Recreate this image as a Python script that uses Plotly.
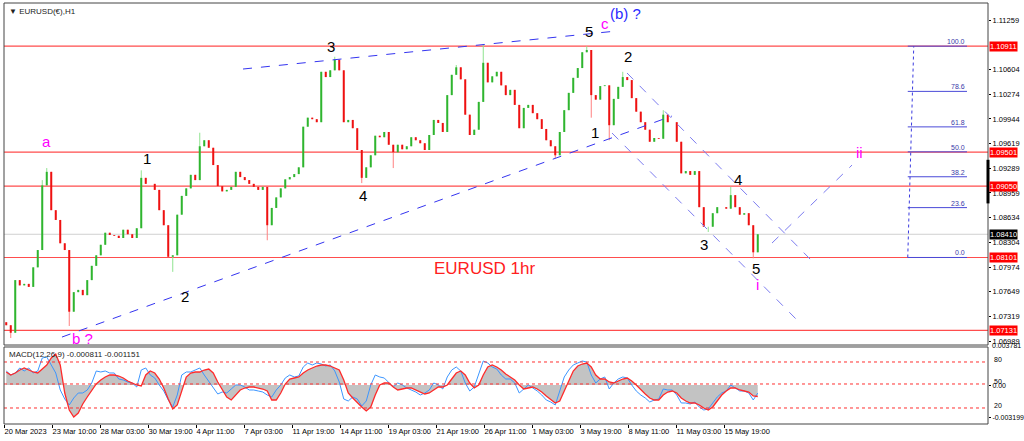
import numpy as np
import plotly.graph_objects as go

# EURUSD H1, closes (one value per 6 hourly bars)
closes = [
    1.0720, 1.0710, 1.0780, 1.0773, 1.0775, 1.0771, 1.0797, 1.0820, 1.0906, 1.0924,
    1.0873, 1.0860, 1.0829, 1.0820, 1.0738, 1.0764, 1.0767, 1.0760, 1.0780, 1.0799,
    1.0813, 1.0827, 1.0843, 1.0840, 1.0839, 1.0836, 1.0847, 1.0841, 1.0836, 1.0849,
    1.0916, 1.0908, 1.0908, 1.0900, 1.0873, 1.0853, 1.0811, 1.0813, 1.0867, 1.0892,
    1.0902, 1.0920, 1.0913, 1.0958, 1.0966, 1.0956, 1.0933, 1.0905, 1.0898, 1.0900,
    1.0904, 1.0924, 1.0917, 1.0913, 1.0908, 1.0904, 1.0900, 1.0904, 1.0853, 1.0876,
    1.0890, 1.0902, 1.0914, 1.0917, 1.0921, 1.0930, 1.0984, 1.0996, 1.0994, 1.0990,
    1.1057, 1.1050, 1.1059, 1.1073, 1.1059, 1.0990, 1.0993, 1.0982, 1.0953, 1.0916,
    1.0930, 1.0946, 1.0972, 1.0970, 1.0977, 1.0960, 1.0950, 1.0960, 1.0954, 1.0958,
    1.0970, 1.0966, 1.0962, 1.0953, 1.0973, 1.0993, 1.0989, 1.0977, 1.1026, 1.1053,
    1.1063, 1.1047, 1.1000, 1.0973, 1.0980, 1.1017, 1.1069, 1.1043, 1.1051, 1.1057,
    1.1039, 1.1026, 1.1033, 1.1013, 1.0982, 1.1009, 1.1013, 1.1002, 1.0994, 1.0981,
    1.0966, 1.0958, 1.0946, 1.0977, 1.1006, 1.1029, 1.1049, 1.1062, 1.1083, 1.1086,
    1.1026, 1.1020, 1.1038, 1.1039, 1.0986, 1.1021, 1.1037, 1.1050, 1.1046, 1.1022,
    1.1004, 1.0990, 1.0980, 1.0964, 1.0969, 1.0968, 1.1000, 1.0990, 1.0990, 1.0964,
    1.0922, 1.0925, 1.0920, 1.0925, 1.0877, 1.0851, 1.0851, 1.0869, 1.0877, 1.0877,
    1.0875, 1.0893, 1.0877, 1.0867, 1.0869, 1.0853, 1.0817, 1.0841,
]
first_open = 1.0724
# spikes that stick out of the bodies (candle index -> price)
wick_highs = {8: 1.0913, 9: 1.0929, 30: 1.0926, 43: 1.0976, 73: 1.1077, 100: 1.1066,
              106: 1.1094, 129: 1.1091, 137: 1.1057, 146: 1.1006, 161: 1.0904}
wick_lows = {1: 1.0703, 14: 1.0719, 37: 1.0791, 58: 1.0833, 79: 1.0909, 86: 1.0929,
             122: 1.0942, 130: 1.0996, 134: 1.0966, 156: 1.0844, 166: 1.0809}

# MACD(12,26,9) in units of 0.0001
macd_main = [
    14, 10, 12, 17, 14, 17, 12, 14, 27, 28,
    20, 12, -5, -14, -20, -13, -8, -8, -5, 2,
    14, 13, 14, 12, 12, 6, 5, 3, 2, -2,
    15, 17, 10, 7, 0, -6, -15, -22, -10, 10,
    13, 13, 15, 17, 10, 4, -2, -9, -7, -8,
    -4, 0, 0, -2, -5, -5, -6, -7, -10, -12,
    -5, 0, 7, 10, 8, 9, 18, 22, 20, 22,
    21, 19, 20, 14, 3, -14, -16, -12, -14, -21,
    -16, 0, 10, 8, 7, 3, -2, 2, 0, -3,
    -5, -7, -10, -8, -5, 2, 0, -4, 8, 15,
    18, 14, 2, -6, -2, 10, 24, 22, 18, 16,
    10, 6, 6, 2, -8, -4, 0, -3, -6, -10,
    -15, -17, -20, -6, 8, 15, 20, 22, 24, 23,
    10, 2, 6, 8, -4, 2, 6, 8, 7, 0,
    -6, -10, -13, -17, -15, -14, -4, -5, -5, -10,
    -18, -18, -19, -17, -22, -25, -24, -18, -12, -8,
    -6, 0, -3, -6, -6, -8, -15, -8.11,
]
macd_signal = [
    13, 10, 12, 15, 17, 15, 13, 12, 16, 20,
    27, 31, 20, -8, -25, -32, -28, -19, -12, -5,
    1, 5, 8, 10, 10, 9, 7, 4, 2, 0,
    -1, 10, 14, 12, 6, -3, -14, -24, -20, -5,
    8, 12, 13, 13, 15, 16, 12, 3, -5, -12,
    -15, -10, -5, -3, -2, -2, -3, -4, -6, -15,
    -15, -8, 1, 6, 7, 8, 12, 15, 17, 19,
    20, 20, 19, 17, 15, 5, -8, -13, -18, -22,
    -26, -22, -10, 0, 2, 2, -2, -5, -4, -3,
    -3, -5, -7, -9, -8, -5, -2, -2, 0, 6,
    12, 14, 10, 2, -3, 0, 10, 18, 20, 18,
    15, 11, 8, 5, 0, -4, -3, -2, -4, -7,
    -11, -15, -18, -16, -6, 5, 14, 19, 21, 22,
    18, 10, 6, 6, 3, 2, 4, 6, 7, 4,
    0, -5, -9, -13, -15, -15, -10, -7, -6, -8,
    -13, -16, -18, -18, -20, -23, -25, -22, -16, -10,
    -6, -3, -3, -5, -6, -7, -11, -11.51,
]

bars_per_candle = 6
tick_bars = list(range(0, 961, 64))
tick_labels = ['20 Mar 2023', '23 Mar 10:00', '28 Mar 03:00', '30 Mar 19:00', '4 Apr 11:00',
               '7 Apr 03:00', '11 Apr 19:00', '14 Apr 11:00', '19 Apr 03:00', '21 Apr 19:00',
               '26 Apr 11:00', '1 May 03:00', '3 May 19:00', '8 May 11:00', '11 May 03:00',
               '15 May 19:00']
price_ticks = [1.11259, 1.10604, 1.10274, 1.09944, 1.09619, 1.09289, 1.08959,
               1.08634, 1.08304, 1.07974, 1.07649, 1.07319, 1.06989]
sr_levels = [1.10911, 1.09501, 1.09050, 1.08101, 1.07131]
last_price = 1.08410
fib_low, fib_high = 1.08101, 1.10911
fib_ratios = [0.0, 23.6, 38.2, 50.0, 61.8, 78.6, 100.0]
macd_levels = [0.0023, 0.0001, -0.0023]       # 80 / 50 / 20 lines
macd_level_labels = ['80', '50', '20']

# wave count: text, bar, price, colour
wave_labels = [
    ('a', 57, 1.0964, '#ff00ff'), ('1', 191, 1.0942, 'black'), ('2', 241, 1.0758, 'black'),
    ('b ?', 105, 1.0702, '#ff00ff'), ('3', 436, 1.1091, 'black'), ('4', 479, 1.0893, 'black'),
    ('5', 780, 1.1110, 'black'), ('c', 801, 1.1121, '#ff00ff'), ('(b) ?', 828, 1.1135, '#2a2aff'),
    ('2', 832, 1.1077, 'black'), ('1', 788, 1.0976, 'black'), ('4', 979, 1.0914, 'black'),
    ('3', 933, 1.0827, 'black'), ('5', 1003, 1.0796, 'black'), ('i', 1005, 1.0774, '#ff00ff'),
    ('ii', 1141, 1.0950, '#ff00ff'),
]
# drawn trend lines: bar0, price0, bar1, price1, colour
trend_lines = [
    (318.7, 1.10607, 817.3, 1.11113, '#3434f0'),
    (77.3, 1.07043, 890.7, 1.09982, '#3434f0'),
    (830.7, 1.10554, 1078.7, 1.08040, '#7c7cf0'),
    (810.7, 1.09756, 1058.7, 1.07256, '#7c7cf0'),
    (1024, 1.08293, 1130.7, 1.09330, '#7c7cf0'),
]

x = np.arange(len(closes)) * bars_per_candle + 3
opens = [first_open] + closes[:-1]
highs = [max(o, c, wick_highs.get(i, 0)) for i, (o, c) in enumerate(zip(opens, closes))]
lows = [min(o, c, wick_lows.get(i, 9)) for i, (o, c) in enumerate(zip(opens, closes))]
main = np.array(macd_main) / 10000
signal = np.array(macd_signal) / 10000


def segments(idx, lo, hi):
    xs, ys = [], []
    for i in idx:
        xs += [x[i], x[i], None]
        ys += [lo[i], hi[i], None]
    return xs, ys


fig = go.Figure()

# thin MT4-style candles: wick + body as vertical strokes
up = [i for i in range(len(closes)) if closes[i] >= opens[i]]
down = [i for i in range(len(closes)) if closes[i] < opens[i]]
body_lo = [min(o, c) for o, c in zip(opens, closes)]
body_hi = [max(o, c) for o, c in zip(opens, closes)]
for idx, wick_col, body_col in [(up, '#8fe38f', '#2fb52f'), (down, '#ff8080', '#ee1111')]:
    wx, wy = segments(idx, lows, highs)
    fig.add_trace(go.Scatter(x=wx, y=wy, mode='lines', line=dict(color=wick_col, width=1),
                             hoverinfo='skip', yaxis='y'))
    bx, by = segments(idx, body_lo, body_hi)
    fig.add_trace(go.Scatter(x=bx, y=by, mode='lines', line=dict(color=body_col, width=2),
                             hoverinfo='skip', yaxis='y'))

fig.add_trace(go.Scatter(x=x, y=signal, mode='lines', fill='tozeroy', fillcolor='#c3c3c3',
                         line=dict(width=0), yaxis='y2', hoverinfo='skip'))
fig.add_trace(go.Scatter(x=x, y=main, mode='lines', line=dict(color='#3c96ff', width=1),
                         yaxis='y2', hoverinfo='skip'))
fig.add_trace(go.Scatter(x=x, y=signal, mode='lines', line=dict(color='#ff2a2a', width=1.3),
                         yaxis='y2', hoverinfo='skip'))

shapes = []
for lvl in sr_levels:
    shapes.append(dict(type='line', xref='paper', yref='y', x0=0, x1=1, y0=lvl, y1=lvl,
                       line=dict(color='#ff4d4d', width=1.2), layer='below'))
shapes.append(dict(type='line', xref='paper', yref='y', x0=0, x1=1, y0=last_price, y1=last_price,
                   line=dict(color='#d0d0d0', width=1), layer='below'))
for b0, p0, b1, p1, col in trend_lines:
    shapes.append(dict(type='line', xref='x', yref='y', x0=b0, x1=b1, y0=p0, y1=p1,
                       line=dict(color=col, width=1, dash='dash')))

# fibonacci retracement
fib_x0, fib_x1 = 1205, 1284
shapes.append(dict(type='line', xref='x', yref='y', x0=fib_x0, x1=fib_x0 + 8, y0=fib_low, y1=fib_high,
                   line=dict(color='#3a3ae0', width=1, dash='dot')))
annotations = []
for r in fib_ratios:
    p = fib_low + (fib_high - fib_low) * r / 100
    shapes.append(dict(type='line', xref='x', yref='y', x0=fib_x0, x1=fib_x1, y0=p, y1=p,
                       line=dict(color='#4a4ad8', width=1)))
    annotations.append(dict(x=fib_x1, y=p, xref='x', yref='y', text=f'{r:.1f}', showarrow=False,
                            xanchor='right', yanchor='bottom', yshift=-1,
                            font=dict(size=7, color='#3a3aa8', family='Liberation Sans')))

for lvl in macd_levels:
    shapes.append(dict(type='line', xref='paper', yref='y2', x0=0, x1=1, y0=lvl, y1=lvl,
                       line=dict(color='#ff3030', width=1, dash='dot')))

# panel frames
shapes.append(dict(type='rect', xref='paper', yref='y domain', x0=0, x1=1, y0=0, y1=1,
                   line=dict(color='#444444', width=1)))
shapes.append(dict(type='rect', xref='paper', yref='y2 domain', x0=0, x1=1, y0=0, y1=1,
                   line=dict(color='#444444', width=1)))
shapes.append(dict(type='line', xref='paper', yref='y', x0=1, x1=1, y0=1.0882, y1=1.0940,
                   line=dict(color='black', width=3)))

for txt, b, p, col in wave_labels:
    annotations.append(dict(x=b, y=p, xref='x', yref='y', text=txt, showarrow=False,
                            font=dict(size=15, color=col, family='Liberation Sans')))
annotations.append(dict(x=641, y=1.0796, xref='x', yref='y', text='EURUSD 1hr', showarrow=False,
                        font=dict(size=17, color='#ff2020', family='Liberation Sans')))

# price boxes on the right scale
for lvl in sr_levels:
    annotations.append(dict(x=1, y=lvl, xref='paper', yref='y', text=f'{lvl:.5f}', showarrow=False,
                            xanchor='left', xshift=1, bgcolor='#ff0000', borderpad=0,
                            font=dict(size=7.5, color='white', family='Liberation Sans')))
annotations.append(dict(x=1, y=last_price, xref='paper', yref='y', text=f'{last_price:.5f}',
                        showarrow=False, xanchor='left', xshift=1, bgcolor='black', borderpad=0,
                        font=dict(size=7.5, color='white', family='Liberation Sans')))

annotations.append(dict(x=0, y=1, xref='paper', yref='y domain', text='▼ EURUSD(€),H1',
                        showarrow=False, xanchor='left', yanchor='top', xshift=3, yshift=-2,
                        font=dict(size=8, color='#222222', family='Liberation Sans')))
annotations.append(dict(x=0, y=1, xref='paper', yref='y2 domain',
                        text='MACD(12,26,9) -0.000811 -0.001151', showarrow=False,
                        xanchor='left', yanchor='top', xshift=3, yshift=-1,
                        font=dict(size=8, color='#222222', family='Liberation Sans')))
annotations.append(dict(x=1, y=1, xref='paper', yref='y2 domain', text='0.003781',
                        showarrow=False, xanchor='left', yanchor='middle', xshift=2, yshift=1,
                        font=dict(size=7, color='black', family='Liberation Sans')))
for lvl, lab in zip(macd_levels, macd_level_labels):
    annotations.append(dict(x=1, y=lvl, xref='paper', yref='y2', text=lab, showarrow=False,
                            xanchor='left', xshift=4, yshift=2,
                            font=dict(size=7, color='black', family='Liberation Sans')))

fig.update_layout(
    width=1024, height=441,
    margin=dict(l=4, r=36, t=3, b=17),
    paper_bgcolor='white', plot_bgcolor='white',
    showlegend=False,
    shapes=shapes, annotations=annotations,
    font=dict(family='Liberation Sans', size=8, color='black'),
    xaxis=dict(domain=[0, 1], anchor='y2', range=[0, 1312], tickvals=tick_bars, ticktext=tick_labels,
               ticks='outside', ticklen=3, tickcolor='black', ticklabelposition='outside right',
               tickangle=0, automargin=False, tickfont=dict(size=7.5),
               showgrid=False, zeroline=False, showline=False),
    yaxis=dict(domain=[0.1876, 1], anchor='x', side='right', range=[1.06937, 1.11485],
               tickvals=price_ticks, ticktext=[f'{v:.5f}' for v in price_ticks],
               ticks='outside', ticklen=2, tickcolor='black', tickfont=dict(size=7.5),
               automargin=False, showgrid=False, zeroline=False),
    yaxis2=dict(domain=[0, 0.1829], anchor='x', side='right', range=[-0.0039, 0.0038],
                tickvals=[-0.0001, -0.0033], ticktext=['0.00', '-0.003199'],
                ticks='outside', ticklen=2, tickcolor='black', tickfont=dict(size=7),
                automargin=False, showgrid=False, zeroline=False),
)

# the page body has a default 8px margin; drop it so the figure sits at the window's corner
fig.write_html("out.html", config={'displayModeBar': False},
               post_script="document.body.style.margin='0';")
